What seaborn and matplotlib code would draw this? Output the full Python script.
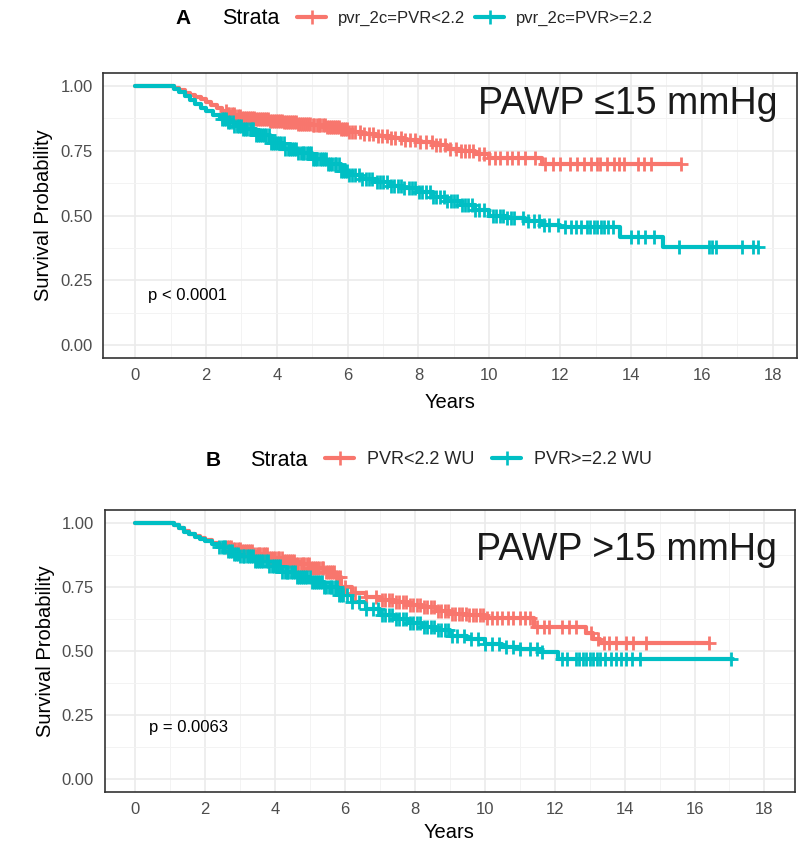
import numpy as np
import pandas as pd
import matplotlib
matplotlib.use("Agg")
import matplotlib.pyplot as plt
from matplotlib.lines import Line2D
import seaborn as sns

# ---------------- data ----------------
year_ticks = [0, 2, 4, 6, 8, 10, 12, 14, 16, 18]
surv_ticks = [0.0, 0.25, 0.5, 0.75, 1.0]
surv_tick_labels = ["0.00", "0.25", "0.50", "0.75", "1.00"]

labels_a = ["pvr_2c=PVR<2.2", "pvr_2c=PVR>=2.2"]
labels_b = ["PVR<2.2 WU", "PVR>=2.2 WU"]
colors = ["#F8766D", "#00BFC4"]

# Panel A, PVR<2.2
a_lt_t = [0, 1.0, 1.1, 1.25, 1.4, 1.55, 1.7, 1.85, 2.0, 2.15, 2.3, 2.45, 2.6, 2.8, 3.0,
          3.4, 3.8, 4.2, 4.6, 5.0, 5.4, 5.8, 6.0, 6.4, 6.8, 7.2, 7.6, 8.0, 8.4, 8.8, 9.2,
          9.6, 10.0, 11.5, 15.4]
a_lt_s = [1.0, 1.0, 0.993, 0.983, 0.974, 0.966, 0.958, 0.95, 0.94, 0.928, 0.915, 0.903,
          0.893, 0.885, 0.878, 0.872, 0.866, 0.86, 0.855, 0.849, 0.843, 0.832, 0.822,
          0.815, 0.808, 0.80, 0.792, 0.785, 0.772, 0.758, 0.748, 0.738, 0.723, 0.698, 0.698]
a_lt_cens = [2.55, 2.61, 2.66, 2.72, 2.78, 2.83, 2.89, 2.95, 3.01, 3.06, 3.12, 3.18, 3.23,
             3.29, 3.35, 3.41, 3.46, 3.52, 3.58, 3.63, 3.69, 3.75, 3.81, 3.86, 3.92, 3.98,
             4.03, 4.09, 4.15, 4.21, 4.26, 4.32, 4.38, 4.43, 4.49, 4.55, 4.61, 4.66, 4.72,
             4.78, 4.83, 4.89, 4.95, 5.01, 5.06, 5.12, 5.18, 5.23, 5.29, 5.35, 5.41, 5.46,
             5.52, 5.58, 5.63, 5.69, 5.75, 5.81, 5.86, 5.92, 5.98, 6.05, 6.12, 6.22, 6.35,
             6.47, 6.60, 6.72, 6.85, 6.97, 7.10, 7.22, 7.35, 7.50, 7.62, 7.75, 7.90, 8.05,
             8.20, 8.38, 8.50, 8.62, 8.75, 8.90, 9.05, 9.20, 9.30, 9.42, 9.55, 9.70, 9.85,
             10.0, 10.15, 10.3, 10.5, 10.65, 10.8, 11.0, 11.3, 11.57, 11.81, 12.0, 12.29,
             12.48, 12.67, 12.86, 13.05, 13.14, 13.33, 13.52, 13.67, 13.81, 14.2, 14.38,
             14.57, 15.4]

# Panel A, PVR>=2.2
a_ge_t = [0, 1.0, 1.1, 1.25, 1.4, 1.55, 1.7, 1.85, 2.0, 2.2, 2.4, 2.6, 2.8, 3.0, 3.4,
          3.8, 4.2, 4.6, 5.0, 5.4, 5.8, 6.0, 6.4, 6.8, 7.2, 7.6, 8.0, 8.4, 8.8, 9.2, 9.6,
          10.0, 10.5, 11.0, 11.5, 12.0, 13.7, 14.9, 17.6]
a_ge_s = [1.0, 1.0, 0.99, 0.975, 0.96, 0.945, 0.93, 0.915, 0.903, 0.888, 0.873, 0.86,
          0.847, 0.835, 0.81, 0.778, 0.758, 0.74, 0.72, 0.70, 0.672, 0.655, 0.64, 0.628,
          0.615, 0.605, 0.59, 0.572, 0.555, 0.54, 0.522, 0.50, 0.49, 0.477, 0.462, 0.455,
          0.418, 0.378, 0.378]
a_ge_cens = [2.45, 2.51, 2.57, 2.62, 2.69, 2.75, 2.80, 2.87, 2.93, 2.98, 3.05, 3.11, 3.16,
             3.23, 3.29, 3.34, 3.41, 3.47, 3.52, 3.59, 3.65, 3.70, 3.77, 3.83, 3.88, 3.95,
             4.01, 4.06, 4.13, 4.19, 4.24, 4.31, 4.37, 4.42, 4.49, 4.55, 4.60, 4.67, 4.73,
             4.78, 4.85, 4.91, 4.96, 5.03, 5.09, 5.14, 5.21, 5.27, 5.32, 5.39, 5.45, 5.50,
             5.57, 5.63, 5.68, 5.75, 5.81, 5.86, 5.93, 5.99, 6.05, 6.12, 6.20, 6.31, 6.40,
             6.52, 6.61, 6.70, 6.82, 6.91, 7.00, 7.12, 7.21, 7.30, 7.42, 7.51, 7.60, 7.72,
             7.81, 7.90, 8.02, 8.11, 8.20, 8.32, 8.41, 8.50, 8.62, 8.71, 8.80, 8.92, 9.01,
             9.10, 9.22, 9.31, 9.40, 9.52, 9.61, 9.72, 9.85, 10.1, 10.2, 10.3, 10.4, 10.5,
             10.6, 10.7, 10.95, 11.1, 11.25, 11.4, 11.55, 11.7, 11.95, 12.15, 12.3, 12.45,
             12.6, 12.75, 12.85, 12.95, 13.05, 13.15, 13.25, 13.35, 13.5, 14.0, 14.2, 14.4,
             14.65, 15.35, 16.2, 16.3, 16.4, 17.15, 17.45, 17.6]

# Panel B, PVR<2.2 WU
b_lt_t = [0, 1.0, 1.1, 1.25, 1.4, 1.55, 1.7, 1.85, 2.0, 2.2, 2.4, 2.6, 2.8, 3.0, 3.4,
          3.8, 4.2, 4.6, 5.0, 5.4, 5.7, 5.9, 6.2, 6.6, 7.0, 7.4, 7.8, 8.2, 8.6, 9.0, 9.5,
          10.0, 11.4, 12.9, 13.1, 13.3, 16.4]
b_lt_s = [1.0, 1.0, 0.99, 0.978, 0.967, 0.957, 0.948, 0.94, 0.932, 0.922, 0.912, 0.905,
          0.898, 0.892, 0.878, 0.864, 0.85, 0.838, 0.822, 0.808, 0.79, 0.748, 0.725, 0.71,
          0.698, 0.69, 0.68, 0.67, 0.655, 0.645, 0.64, 0.63, 0.595, 0.57, 0.545, 0.532,
          0.532]
b_lt_cens = [2.62, 2.68, 2.75, 2.81, 2.86, 2.93, 2.99, 3.04, 3.11, 3.17, 3.22, 3.29, 3.35,
             3.40, 3.47, 3.53, 3.58, 3.65, 3.71, 3.76, 3.83, 3.89, 3.94, 4.01, 4.07, 4.12,
             4.19, 4.25, 4.30, 4.37, 4.43, 4.48, 4.55, 4.61, 4.66, 4.73, 4.79, 4.84, 4.91,
             4.97, 5.02, 5.09, 5.15, 5.20, 5.27, 5.33, 5.38, 5.45, 5.51, 5.56, 5.63, 5.69,
             5.74, 5.81, 5.87, 6.00, 6.30, 6.60, 6.90, 7.05, 7.15, 7.25, 7.35, 7.45, 7.55,
             7.65, 7.75, 7.85, 7.95, 8.05, 8.15, 8.25, 8.35, 8.45, 8.55, 8.65, 8.75, 8.85,
             8.95, 9.05, 9.15, 9.25, 9.35, 9.45, 9.55, 9.65, 9.75, 9.85, 9.95, 10.05, 10.2,
             10.35, 10.5, 10.65, 10.8, 11.0, 11.15, 11.3, 11.5, 11.7, 11.85, 12.2, 12.4,
             12.6, 13.05, 13.25, 13.4, 13.55, 13.75, 14.05, 14.25, 14.6, 16.4]

# Panel B, PVR>=2.2 WU
b_ge_t = [0, 1.0, 1.1, 1.25, 1.4, 1.55, 1.7, 1.85, 2.0, 2.2, 2.4, 2.6, 2.8, 3.0, 3.4,
          3.8, 4.2, 4.6, 5.0, 5.4, 5.8, 6.2, 6.6, 7.0, 7.4, 7.8, 8.2, 8.6, 9.0, 9.5, 10.0,
          10.5, 11.0, 11.6, 12.1, 17.1]
b_ge_s = [1.0, 1.0, 0.99, 0.978, 0.966, 0.955, 0.946, 0.938, 0.93, 0.918, 0.905, 0.892,
          0.88, 0.87, 0.85, 0.83, 0.81, 0.79, 0.77, 0.75, 0.72, 0.69, 0.665, 0.642, 0.625,
          0.61, 0.595, 0.58, 0.56, 0.545, 0.528, 0.515, 0.508, 0.495, 0.468, 0.468]
b_ge_cens = [2.40, 2.47, 2.53, 2.58, 2.65, 2.71, 2.76, 2.83, 2.89, 2.94, 3.01, 3.07, 3.12,
             3.19, 3.25, 3.30, 3.37, 3.43, 3.48, 3.55, 3.61, 3.66, 3.73, 3.79, 3.84, 3.91,
             3.97, 4.02, 4.09, 4.15, 4.20, 4.27, 4.33, 4.38, 4.45, 4.51, 4.56, 4.63, 4.69,
             4.74, 4.81, 4.87, 4.92, 4.99, 5.05, 5.10, 5.17, 5.23, 5.28, 5.35, 5.41, 5.46,
             5.53, 5.59, 5.64, 5.71, 5.77, 5.82, 5.89, 5.95, 6.05, 6.20, 6.40, 6.60, 6.80,
             6.95, 7.05, 7.15, 7.25, 7.35, 7.45, 7.55, 7.65, 7.75, 7.85, 7.95, 8.05, 8.15,
             8.25, 8.35, 8.45, 8.55, 8.65, 8.75, 8.85, 8.95, 9.05, 9.20, 9.40, 9.60, 9.80,
             10.0, 10.2, 10.4, 10.6, 10.8, 11.0, 11.3, 11.5, 11.65, 12.2, 12.35, 12.6, 12.7,
             12.8, 12.9, 13.0, 13.1, 13.2, 13.3, 13.45, 13.6, 13.75, 13.9, 14.05, 14.2,
             14.45, 17.05]

p_text_a = "p < 0.0001"
p_text_b = "p = 0.0063"
title_a = "PAWP \u226415 mmHg"
title_b = "PAWP >15 mmHg"

# ---------------- style ----------------
sns.set_theme(style="white")
plt.rcParams["font.family"] = ["Liberation Sans", "DejaVu Sans"]

W, H = 808, 843
fig = plt.figure(figsize=(W / 100, H / 100), dpi=100)


def fx(px):
    return px / W


def fy(py):
    return 1 - py / H


axA = fig.add_axes([fx(103), fy(358), fx(797 - 103), (358 - 73) / H])
axB = fig.add_axes([fx(104.5), fy(792), fx(794.5 - 104.5), (792 - 510) / H])

TXT = "#4D4D4D"
DARK = "#333333"


def draw_panel(ax, curves, xlim, ptext, ptxt_xy, title, title_xy, xlabelpad):
    for t, s, cens, col in curves:
        df = pd.DataFrame({"t": t, "s": s})
        sns.lineplot(data=df, x="t", y="s", drawstyle="steps-post", color=col, lw=3.0,
                     estimator=None, sort=False, ax=ax, zorder=3)
        t_arr = np.asarray(t)
        s_arr = np.asarray(s)
        cy = s_arr[np.searchsorted(t_arr, cens, side="right") - 1]
        sns.scatterplot(x=cens, y=cy, marker="+", s=95, color=col, linewidth=2.0,
                        ax=ax, zorder=4, legend=False)
    ax.set_xlim(*xlim)
    ax.set_ylim(-0.05, 1.05)
    ax.set_xticks(year_ticks)
    ax.set_xticklabels([str(v) for v in year_ticks])
    ax.set_xticks([1, 3, 5, 7, 9, 11, 13, 15, 17], minor=True)
    ax.set_yticks(surv_ticks)
    ax.set_yticklabels(surv_tick_labels)
    ax.set_yticks([0.125, 0.375, 0.625, 0.875], minor=True)
    ax.grid(True, which="major", color="#EBEBEB", lw=1.2, zorder=0)
    ax.grid(True, which="minor", color="#F3F3F3", lw=0.7, zorder=0)
    ax.set_axisbelow(True)
    for sp in ax.spines.values():
        sp.set_color(DARK)
        sp.set_linewidth(1.2)
        sp.set_visible(True)
    ax.tick_params(which="major", length=4.5, width=1.2, color=DARK, labelcolor=TXT,
                   labelsize=12, pad=3)
    ax.tick_params(which="minor", length=0)
    ax.set_xlabel("Years", fontsize=14.5, color="black", labelpad=xlabelpad)
    ax.set_ylabel("Survival Probability", fontsize=14.5, color="black", labelpad=5)
    ax.text(ptxt_xy[0], ptxt_xy[1], ptext, fontsize=12, color="black",
            ha="left", va="center")
    ax.text(title_xy[0], title_xy[1], title, fontsize=27, color="#1a1a1a",
            ha="right", va="center")


draw_panel(axA,
           [(a_lt_t, a_lt_s, a_lt_cens, colors[0]), (a_ge_t, a_ge_s, a_ge_cens, colors[1])],
           (-0.91, 18.69), p_text_a, (0.37, 0.19), title_a, (18.13, 0.93), 7)
draw_panel(axB,
           [(b_lt_t, b_lt_s, b_lt_cens, colors[0]), (b_ge_t, b_ge_s, b_ge_cens, colors[1])],
           (-0.88, 18.86), p_text_b, (0.4, 0.2), title_b, (18.36, 0.895), 4)


def legend_row(letter, letter_x, strata_x, key_x, y, labels, colsp, fs):
    fig.text(fx(letter_x), fy(y), letter, fontsize=15, fontweight="bold",
             ha="left", va="center", color="black")
    fig.text(fx(strata_x), fy(y), "Strata", fontsize=15.5, ha="left", va="center",
             color="black")
    handles = [Line2D([], [], color=c, lw=3.0, marker="+", markersize=10,
                      markeredgewidth=1.9) for c in colors]
    fig.legend(handles, labels, loc="center left", bbox_to_anchor=(fx(key_x), fy(y)),
               ncol=2, frameon=False, fontsize=fs, handlelength=21 / fs * 1.0,
               handletextpad=0.7, columnspacing=colsp, borderpad=0, borderaxespad=0,
               numpoints=1)


legend_row("A", 175, 222, 297, 18, labels_a, 0.6, 12)
legend_row("B", 206, 250, 325, 460, labels_b, 1.0, 13)

fig.savefig("out.png", dpi=100, facecolor="white")
